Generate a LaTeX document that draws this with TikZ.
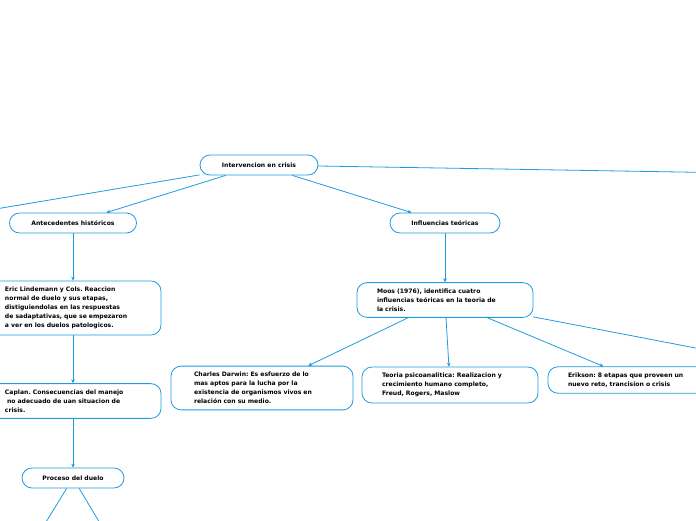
\documentclass[tikz,border=0pt]{standalone}
\usepackage{fontspec}
\setsansfont{DejaVu Sans}
\usepackage{xcolor}
\usepackage{tikz}
\usetikzlibrary{arrows.meta}
\definecolor{mapblue}{RGB}{32,154,224}
\frenchspacing
\begin{document}
\begin{tikzpicture}[x=1pt,y=-1pt]
	\tikzstyle{topic}=[draw=mapblue,fill=white,rounded corners=10pt,line width=0.8pt,font=\sffamily\bfseries\fontsize{6.1}{9}\selectfont,inner ysep=6pt]
	\tikzstyle{single}=[topic,minimum height=20pt,inner ysep=2pt]
	\tikzstyle{multi}=[topic,text width=136pt,align=left,inner xsep=20pt]
	\useasboundingbox[clip] (0,0) rectangle (696,520);
	\node[single,minimum width=118pt](crisis) at (259,165) {Intervencion en crisis};
	\node[single,minimum width=127pt](antec) at (73,223) {Antecedentes históricos};
	\node[single,minimum width=110pt](influ) at (445,223) {Influencias teóricas};
	\node[multi](lindemann) at (73,308) {Eric Lindemann y Cols. Reaccion\\normal de duelo y sus etapas,\\distiguiendolas en las respuestas\\de sadaptativas, que se empezaron\\a ver en los duelos patologicos.};
	\node[multi](caplan) at (73,401) {Caplan. Consecuencias del manejo\\\ no adecuado de uan situacion de\\crisis.};
	\node[single,minimum width=102pt](duelo) at (73,478) {Proceso del duelo};
	\node[multi](moos) at (445,300) {Moos (1976), identifica cuatro\\influencias teóricas en la teoria de\\la crisis.};
	\node[multi,inner xsep=23pt](darwin) at (262,388) {Charles Darwin: Es esfuerzo de lo\\mas aptos para la lucha por la\\existencia de organismos vivos en\\relación con su medio.};
	\node[multi](psico) at (450,385) {Teoria psicoanalitica: Realizacion y\\crecimiento humano completo,\\Freud, Rogers, Maslow};
	\node[multi](erikson) at (636,380) {Erikson: 8 etapas que proveen un\\nuevo reto, trancision o crisis};
	\coordinate(leftout) at (-100,225);
	\coordinate(rightout) at (800,174);
	\coordinate(moosout) at (800,368);
	\coordinate(duelo1) at (35,540);
	\coordinate(duelo2) at (110,540);
	\path[-{Stealth[length=4pt,width=3.5pt]},draw=mapblue,line width=0.8pt]
		(crisis) edge node {}(antec)
		(crisis) edge node {}(influ)
		(antec) edge node {}(lindemann)
		(lindemann) edge node {}(caplan)
		(caplan) edge node {}(duelo)
		(influ) edge node {}(moos)
		(moos) edge node {}(darwin)
		(moos) edge node {}(psico)
		(moos) edge node {}(erikson);
	\path[-,draw=mapblue,line width=0.8pt]
		(crisis) edge node {}(leftout)
		(crisis) edge node {}(rightout)
		(moos) edge node {}(moosout)
		(duelo) edge node {}(duelo1)
		(duelo) edge node {}(duelo2);
\end{tikzpicture}
\end{document}
